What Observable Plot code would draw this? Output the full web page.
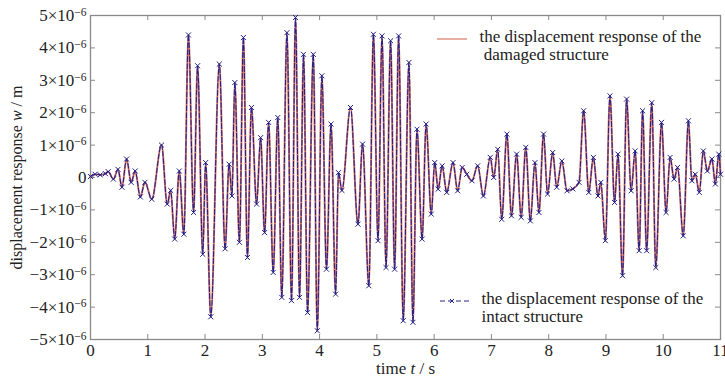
<!DOCTYPE html>
<html>
<head>
<meta charset="utf-8">
<script src="https://cdn.jsdelivr.net/npm/d3@7"></script>
<script src="https://cdn.jsdelivr.net/npm/@observablehq/plot@0.6"></script>
<style>
  html, body { margin: 0; padding: 0; background: #fff; }
  #chart svg { display: block; }
  #chart svg, #chart svg text, #chart svg tspan { font-family: "Liberation Serif", "Times New Roman", "DejaVu Serif", serif !important; }
</style>
</head>
<body>
<div id="chart"></div>
<script>
// time t / s
const times = [
  0.00, 0.08, 0.17, 0.26, 0.31, 0.40, 0.48, 0.55, 0.63, 0.71, 0.78, 0.87, 0.95, 1.07, 1.24, 1.34, 1.40, 1.47, 1.55, 1.63,
  1.71, 1.80, 1.87, 1.96, 2.01, 2.10, 2.25, 2.35, 2.42, 2.47, 2.52, 2.60, 2.67, 2.74, 2.81, 2.90, 2.97, 3.04, 3.11, 3.19,
  3.27, 3.34, 3.43, 3.51, 3.58, 3.65, 3.72, 3.79, 3.89, 3.96, 4.04, 4.12, 4.20, 4.28, 4.33, 4.39, 4.54, 4.67, 4.75, 4.86,
  4.94, 5.02, 5.09, 5.16, 5.24, 5.31, 5.38, 5.46, 5.56, 5.63, 5.70, 5.79, 5.86, 5.95, 6.01, 6.07, 6.14, 6.22, 6.33, 6.41,
  6.49, 6.57, 6.66, 6.76, 6.86, 6.98, 7.04, 7.11, 7.18, 7.27, 7.35, 7.44, 7.52, 7.60, 7.68, 7.76, 7.83, 7.91, 7.98, 8.07,
  8.14, 8.23, 8.32, 8.42, 8.53, 8.61, 8.70, 8.78, 8.86, 8.91, 8.99, 9.07, 9.15, 9.21, 9.29, 9.36, 9.44, 9.51, 9.58, 9.64,
  9.71, 9.80, 9.87, 9.97, 10.05, 10.12, 10.19, 10.25, 10.35, 10.44, 10.50, 10.56, 10.63, 10.70, 10.77, 10.85, 10.91, 10.97, 11.00
];
// displacement response of the damaged structure (units of 1e-6 m)
const damagedResponse = [
  0.03, 0.10, 0.08, 0.12, 0.18, -0.05, 0.25, -0.30, 0.57, -0.15, 0.20, -0.60, -0.15, -0.67, 1.00, -0.82, -0.40, -1.90, 0.20, -1.75,
  4.40, -1.08, 3.45, -2.37, 0.46, -4.30, 3.50, -2.20, 0.41, -0.57, 2.93, -2.00, 4.32, -2.47, 2.16, -0.82, 1.23, -1.70, 1.70, -2.93,
  1.85, -3.70, 4.47, -3.80, 4.94, -3.70, 3.80, -4.17, 3.80, -4.73, 3.14, -2.83, 1.65, -3.60, 0.15, -0.40, 2.16, -1.44, 1.03, -3.34,
  4.42, -1.95, 4.37, -2.78, 4.22, -2.83, 4.37, -4.42, 3.55, -4.47, 1.49, -1.90, 1.65, -1.13, 0.46, -0.36, 0.36, -0.46, 0.46, -0.41,
  0.31, 0.10, -0.10, 0.36, -0.57, 0.62, 0.00, 0.87, -1.29, 1.34, -1.18, 0.72, -1.23, 0.93, -1.34, 0.46, -1.08, 1.34, -0.51, 0.77,
  -0.30, 0.51, -0.41, -0.35, -0.15, 2.06, -0.46, 0.62, -0.57, -0.15, -1.95, 2.52, -0.77, 0.72, -3.03, 2.42, -0.41, 0.82, -2.26, 2.06,
  -2.26, 2.31, -2.78, 1.70, -1.08, 0.62, -0.05, 0.31, -1.80, 1.75, -0.10, 0.10, -0.46, 0.82, 0.20, 0.57, -0.20, 0.72, 0.10
];
// displacement response of the intact structure (units of 1e-6 m)
const intactResponse = [
  0.03, 0.10, 0.08, 0.12, 0.18, -0.05, 0.25, -0.30, 0.57, -0.15, 0.20, -0.60, -0.15, -0.67, 1.00, -0.82, -0.40, -1.90, 0.20, -1.75,
  4.40, -1.08, 3.45, -2.37, 0.46, -4.30, 3.50, -2.20, 0.41, -0.57, 2.93, -2.00, 4.32, -2.47, 2.16, -0.82, 1.23, -1.70, 1.70, -2.93,
  1.85, -3.70, 4.47, -3.80, 4.94, -3.70, 3.80, -4.17, 3.80, -4.73, 3.14, -2.83, 1.65, -3.60, 0.15, -0.40, 2.16, -1.44, 1.03, -3.34,
  4.42, -1.95, 4.37, -2.78, 4.22, -2.83, 4.37, -4.42, 3.55, -4.47, 1.49, -1.90, 1.65, -1.13, 0.46, -0.36, 0.36, -0.46, 0.46, -0.41,
  0.31, 0.10, -0.10, 0.36, -0.57, 0.62, 0.00, 0.87, -1.29, 1.34, -1.18, 0.72, -1.23, 0.93, -1.34, 0.46, -1.08, 1.34, -0.51, 0.77,
  -0.30, 0.51, -0.41, -0.35, -0.15, 2.06, -0.46, 0.62, -0.57, -0.15, -1.95, 2.52, -0.77, 0.72, -3.03, 2.42, -0.41, 0.82, -2.26, 2.06,
  -2.26, 2.31, -2.78, 1.70, -1.08, 0.62, -0.05, 0.31, -1.80, 1.75, -0.10, 0.10, -0.46, 0.82, 0.20, 0.57, -0.20, 0.72, 0.10
];
const xTicks = [0, 1, 2, 3, 4, 5, 6, 7, 8, 9, 10, 11];
const yTicks = [-5, -4, -3, -2, -1, 0, 1, 2, 3, 4, 5];
const legendLabels = ["the displacement response of the\n damaged structure", "the displacement response of the\nintact structure"];

const damagedRows = times.map((t, i) => ({t, v: damagedResponse[i]}));
const intactRows = times.map((t, i) => ({t, v: intactResponse[i]}));

const RED = "#d9624c", BLUE = "#22228a", AXIS = "#8a8a8a";
const FONT = "Liberation Serif, Times New Roman, DejaVu Serif, serif";

const chart = Plot.plot({
  width: 725, height: 377,
  marginLeft: 90, marginRight: 5, marginTop: 15, marginBottom: 38,
  style: {fontFamily: FONT, fontSize: "17px", background: "#fff", color: "#222"},
  x: {domain: [0, 11]},
  y: {domain: [-5, 5]},
  marks: [
    Plot.frame({stroke: AXIS, strokeWidth: 1.3}),
    Plot.axisX({ticks: xTicks, tickSize: 0, tickPadding: 4, tickFormat: d => String(d), fontFamily: FONT,
      label: "time t / s", labelAnchor: "center", labelOffset: 34, labelArrow: "none"}),
    Plot.axisY({ticks: yTicks, tickSize: 0, tickPadding: 4, fontFamily: FONT,
      tickFormat: d => d === 0 ? "0" : (d < 0 ? "\u2212" : "") + Math.abs(d) + "\u00d710",
      label: "displacement response w / m", labelAnchor: "center", labelOffset: 80, labelArrow: "none"}),
    Plot.tickX(xTicks, {x: d => d, insetTop: 319, stroke: AXIS}),
    Plot.tickX(xTicks, {x: d => d, insetBottom: 319, stroke: AXIS}),
    Plot.tickY(yTicks, {y: d => d, insetRight: 625, stroke: AXIS}),
    Plot.tickY(yTicks, {y: d => d, insetLeft: 625, stroke: AXIS}),
    Plot.line(damagedRows, {x: "t", y: "v", stroke: RED, strokeWidth: 2, strokeOpacity: 0.85, curve: "monotone-x"}),
    Plot.line(intactRows, {x: "t", y: "v", stroke: BLUE, strokeWidth: 1.1, strokeDasharray: "5,2", curve: "monotone-x"}),
    Plot.dot(intactRows, {x: "t", y: "v", symbol: "times", r: 2.4, stroke: BLUE, strokeWidth: 1}),
    Plot.text([legendLabels[0]], {frameAnchor: "top-left", dx: 389, dy: 14, textAnchor: "start", lineAnchor: "top", lineHeight: 1.06, fill: "#222", fontSize: 17, fontFamily: FONT}),
    Plot.text([legendLabels[1]], {frameAnchor: "top-left", dx: 391, dy: 276, textAnchor: "start", lineAnchor: "top", lineHeight: 1.06, fill: "#222", fontSize: 17, fontFamily: FONT})
  ]
});

document.getElementById("chart").appendChild(chart);

const svg = d3.select(chart);
// superscript exponents on y tick labels
svg.selectAll('[aria-label="y-axis tick label"] text').each(function () {
  const t = d3.select(this);
  const s = t.text();
  if (s !== "0") {
    t.append("tspan").attr("dy", "-0.45em").attr("font-size", 11.5).text("\u22126");
  }
});
// italic variable names in axis labels
svg.selectAll('[aria-label="x-axis label"] text').each(function () {
  const t = d3.select(this); t.text("");
  t.append("tspan").text("time ");
  t.append("tspan").attr("font-style", "italic").text("t");
  t.append("tspan").text(" / s");
});
svg.selectAll('[aria-label="y-axis label"] text').each(function () {
  const t = d3.select(this); t.text("").attr("font-size", 16);
  t.append("tspan").text("displacement response ");
  t.append("tspan").attr("font-style", "italic").text("w");
  t.append("tspan").text(" / m");
});
// legend swatches
const lg = svg.append("g").attr("aria-label", "legend swatches");
lg.append("line").attr("x1", 437).attr("x2", 467).attr("y1", 39).attr("y2", 39)
  .attr("stroke", RED).attr("stroke-width", 1.3).attr("opacity", 0.8);
lg.append("line").attr("x1", 440).attr("x2", 470).attr("y1", 301).attr("y2", 301)
  .attr("stroke", BLUE).attr("stroke-width", 1).attr("stroke-dasharray", "5,3");
lg.append("path").attr("d", "M450,299L454,303M450,303L454,299").attr("stroke", BLUE).attr("stroke-width", 1);
</script>
</body>
</html>
